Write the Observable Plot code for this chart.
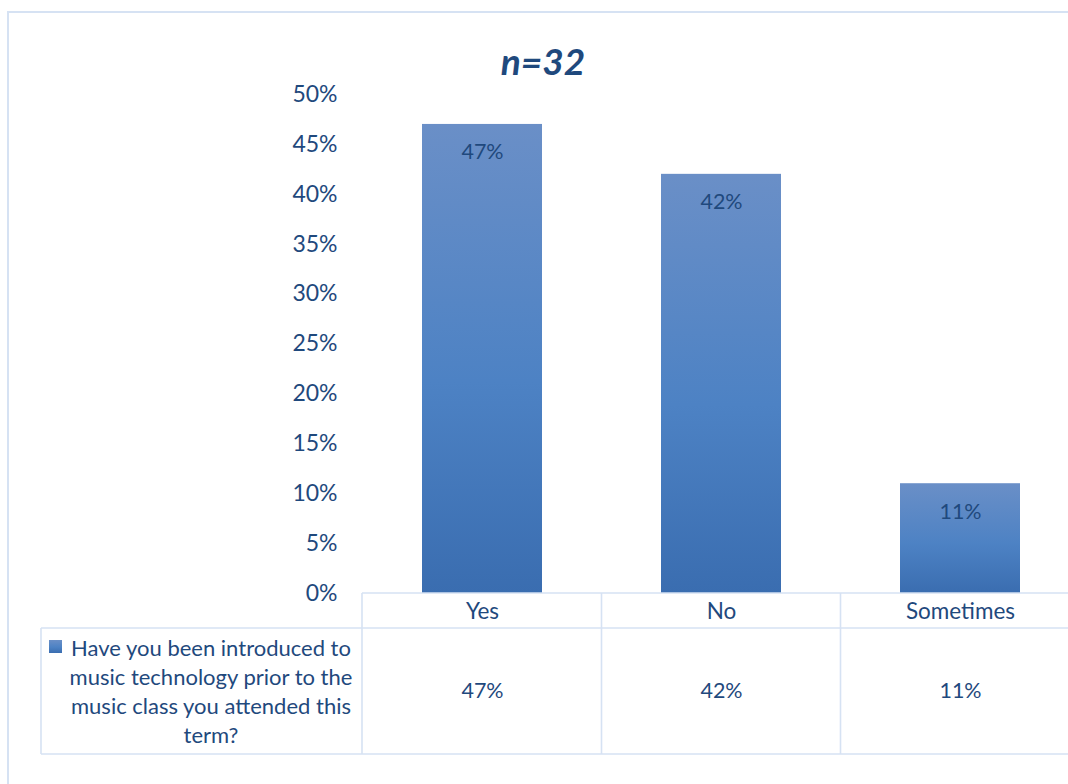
<!DOCTYPE html>
<html>
<head>
<meta charset="utf-8">
<script src="https://cdn.jsdelivr.net/npm/d3@7"></script>
<script src="https://cdn.jsdelivr.net/npm/@observablehq/plot@0.6"></script>
<style>
  html, body { margin: 0; padding: 0; background: #fff; }
  #chart { width: 1068px; height: 784px; overflow: hidden; }
</style>
</head>
<body>
<div id="chart"></div>
<script>
const categories = ["Yes", "No", "Sometimes"];
const values = [0.47, 0.42, 0.11];
const valueLabels = ["47%", "42%", "11%"];
const yTicks = [0, 0.05, 0.10, 0.15, 0.20, 0.25, 0.30, 0.35, 0.40, 0.45, 0.50];
const title = "n=32";
const seriesName = "Have you been introduced to\nmusic technology prior to the\nmusic class you attended this\nterm?";

const data = categories.map((c, i) => ({cat: c, value: values[i], label: valueLabels[i]}));

const textColor = "#1F497D";
const gridColor = "#D6E2F3";
const font = "Lato, 'Open Sans', sans-serif";

const plot = Plot.plot({
  width: 1068,
  height: 784,
  marginTop: 94,
  marginBottom: 191,
  marginLeft: 362,
  marginRight: 0,
  style: {fontFamily: font, fontSize: "22px", color: textColor, background: "transparent", overflow: "visible"},
  x: {domain: categories, range: [362, 1079], paddingInner: 0.5, paddingOuter: 0.25, label: null},
  y: {domain: [0, 0.5], label: null},
  marks: [
    Plot.ruleY(yTicks.filter(d => d > 0), {stroke: gridColor, strokeWidth: 1.6, x1: 362, x2: 1068}),
    Plot.barY(data, {x: "cat", y: "value", fill: "url(#barGrad)"}),
    Plot.text(data, {x: "cat", y: "value", text: "label", dy: 28, fill: textColor, fontSize: 21.5}),
    Plot.axisY({ticks: yTicks, tickFormat: d => Math.round(d * 100) + "%", tickSize: 0, tickPadding: 25, fontSize: 23, fill: textColor, label: null}),
    Plot.axisX({tickSize: 0, tickPadding: 10, fontSize: 22.5, fill: textColor, label: null}),
    Plot.text(data, {x: "cat", text: "label", frameAnchor: "bottom", dy: 104, fill: textColor, fontSize: 21.5})
  ]
});

document.getElementById("chart").appendChild(plot);

const svg = d3.select(plot);
const defs = svg.insert("defs", ":first-child");
const grad = defs.append("linearGradient").attr("id", "barGrad").attr("x1", 0).attr("y1", 0).attr("x2", 0).attr("y2", 1);
grad.append("stop").attr("offset", "0%").attr("stop-color", "#6A8FC7");
grad.append("stop").attr("offset", "55%").attr("stop-color", "#4D82C4");
grad.append("stop").attr("offset", "100%").attr("stop-color", "#3A6DB0");

const x = plot.scale("x");
const y = plot.scale("y");
const y0 = y.apply(0);
const row1 = y0 + 35;
const row2 = y0 + 161;
const xLeft = 41;
const xRightEnd = 1080;
const edges = [x.range[0]].concat(categories.map(c => x.apply(c) + x.bandwidth + (x.step - x.bandwidth) / 2));

const g = svg.append("g").attr("fill", "none").attr("stroke", gridColor).attr("stroke-width", 1.6);
// outer chart border
g.append("rect").attr("x", 8).attr("y", 12).attr("width", 1100).attr("height", 800).attr("stroke-width", 2);
// table horizontals
g.append("line").attr("x1", x.range[0]).attr("x2", xRightEnd).attr("y1", y0).attr("y2", y0);
g.append("line").attr("x1", xLeft).attr("x2", xRightEnd).attr("y1", row1).attr("y2", row1);
g.append("line").attr("x1", xLeft).attr("x2", xRightEnd).attr("y1", row2).attr("y2", row2);
// table verticals
g.append("line").attr("x1", xLeft).attr("x2", xLeft).attr("y1", row1).attr("y2", row2);
edges.forEach(e => g.append("line").attr("x1", e).attr("x2", e).attr("y1", y0).attr("y2", row2));

// legend marker and series name
svg.append("rect").attr("x", 49).attr("y", 640).attr("width", 13).attr("height", 13).attr("fill", "url(#barGrad)");
const lines = seriesName.split("\n");
const t = svg.append("text").attr("fill", textColor).attr("font-size", 22).attr("font-family", font).attr("text-anchor", "middle");
lines.forEach((ln, i) => t.append("tspan").attr("x", 211).attr("y", 656 + i * 29).text(ln));

// title
svg.append("text").attr("x", 543).attr("y", 75).attr("text-anchor", "middle").attr("fill", textColor)
  .attr("font-size", 37).attr("font-weight", "bold").attr("font-style", "italic").attr("font-family", font).text(title);
</script>
</body>
</html>
